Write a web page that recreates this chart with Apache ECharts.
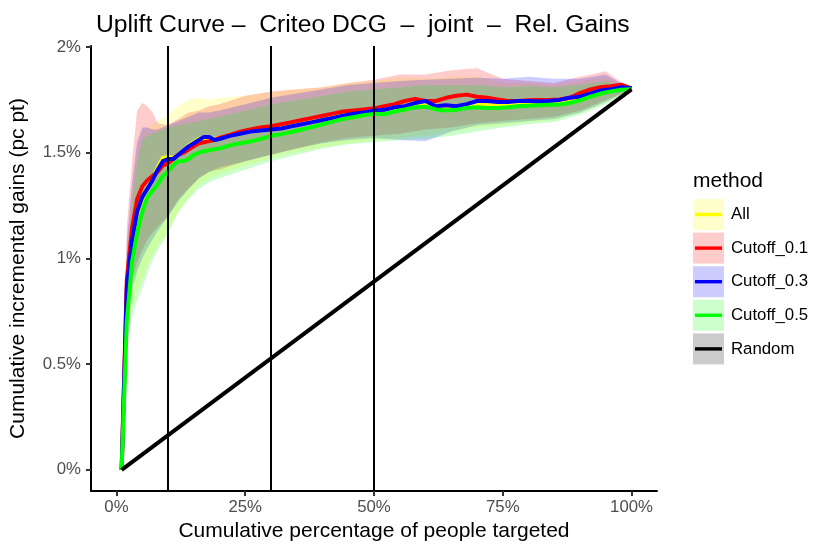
<!DOCTYPE html>
<html>
<head>
<meta charset="utf-8">
<script src="https://cdn.jsdelivr.net/npm/echarts@6/dist/echarts.min.js"></script>
<style>
html,body{margin:0;padding:0;background:#fff;}
#chart{width:830px;height:554px;}
</style>
</head>
<body>
<div id="chart"></div>
<script>
// ---------- data ----------
var METHODS = ['All', 'Cutoff_0.1', 'Cutoff_0.3', 'Cutoff_0.5', 'Random'];
var LINE_COLORS = ['#FFFF00', '#FF0000', '#0000FF', '#00FF00', '#000000'];
var RIBBON_COLORS = ['rgba(255,255,0,0.2)', 'rgba(255,0,0,0.2)', 'rgba(0,0,255,0.2)', 'rgba(0,255,0,0.2)', 'rgba(0,0,0,0.2)'];

var X_TICKS = [0, 25, 50, 75, 100];
var Y_TICKS = [0, 0.5, 1, 1.5, 2];
var VLINES = [10, 30, 50];

var LINE_X = [1,2,3,4,5,6,7,8,9,10,11,12,13,14,15,16,17,18,19,20,22,24,26,28,30,32,34,36,38,40,42,44,46,48,50,52,54,56,58,60,62,64,66,68,70,72,74,76,78,80,82,84,86,88,90,92,94,96,98,100];

var ALL = [0,0.84,1.07,1.21,1.28,1.33,1.38,1.43,1.475,1.48,1.475,1.49,1.51,1.535,1.55,1.565,1.57,1.57,1.565,1.57,1.585,1.595,1.605,1.61,1.615,1.62,1.63,1.64,1.65,1.66,1.67,1.68,1.69,1.695,1.70,1.705,1.71,1.715,1.725,1.735,1.715,1.715,1.71,1.72,1.73,1.725,1.73,1.73,1.74,1.74,1.74,1.742,1.745,1.755,1.76,1.775,1.79,1.80,1.805,1.80];
var CUT01 = [0,0.90,1.14,1.28,1.34,1.37,1.39,1.41,1.44,1.45,1.47,1.49,1.50,1.515,1.53,1.545,1.55,1.555,1.56,1.57,1.585,1.60,1.61,1.62,1.625,1.635,1.645,1.655,1.665,1.675,1.685,1.695,1.70,1.705,1.71,1.72,1.73,1.745,1.755,1.745,1.745,1.76,1.77,1.775,1.765,1.76,1.752,1.745,1.745,1.748,1.75,1.75,1.752,1.76,1.782,1.80,1.81,1.815,1.822,1.805];
var CUT03 = [0,0.86,1.08,1.22,1.29,1.33,1.37,1.42,1.46,1.47,1.47,1.49,1.51,1.53,1.545,1.56,1.575,1.575,1.56,1.565,1.58,1.59,1.60,1.605,1.61,1.615,1.625,1.635,1.645,1.655,1.665,1.675,1.685,1.69,1.70,1.703,1.715,1.72,1.735,1.745,1.72,1.725,1.72,1.73,1.745,1.745,1.74,1.74,1.745,1.745,1.742,1.745,1.75,1.76,1.765,1.78,1.795,1.80,1.81,1.805];
var CUT05 = [0,0.70,0.98,1.12,1.22,1.29,1.32,1.35,1.39,1.41,1.44,1.46,1.46,1.47,1.49,1.50,1.507,1.512,1.517,1.52,1.535,1.545,1.553,1.565,1.58,1.588,1.598,1.61,1.622,1.635,1.647,1.66,1.668,1.677,1.684,1.682,1.695,1.705,1.715,1.718,1.705,1.70,1.703,1.712,1.715,1.712,1.712,1.715,1.72,1.722,1.725,1.727,1.728,1.735,1.748,1.765,1.78,1.79,1.798,1.80];

var RANDOM_X = [1, 100];
var RANDOM_Y = [0, 1.80];

var RIBBON_X = [1,2,3,4,5,6,7,8,10,12,14,16,18,20,25,30,35,40,45,50,55,60,65,70,75,80,85,90,95,100];
var ALL_HI = [0,1.05,1.30,1.50,1.60,1.62,1.63,1.65,1.68,1.72,1.75,1.76,1.75,1.76,1.77,1.785,1.80,1.81,1.83,1.84,1.855,1.85,1.86,1.86,1.83,1.83,1.82,1.84,1.86,1.80];
var ALL_LO = [0,0.68,0.78,0.85,0.90,0.97,1.02,1.06,1.12,1.22,1.29,1.35,1.38,1.40,1.44,1.475,1.505,1.525,1.545,1.56,1.57,1.58,1.60,1.62,1.63,1.645,1.655,1.69,1.74,1.80];
var CUT01_HI = [0,1.15,1.45,1.70,1.735,1.72,1.69,1.64,1.63,1.66,1.69,1.70,1.72,1.73,1.77,1.79,1.80,1.81,1.83,1.845,1.87,1.87,1.89,1.90,1.85,1.84,1.83,1.86,1.885,1.80];
var CUT01_LO = [0,0.75,0.90,0.98,1.04,1.09,1.12,1.15,1.20,1.28,1.33,1.38,1.41,1.42,1.46,1.49,1.52,1.55,1.57,1.58,1.59,1.61,1.62,1.64,1.65,1.66,1.67,1.70,1.75,1.80];
var CUT03_HI = [0,1.08,1.35,1.55,1.62,1.62,1.61,1.61,1.63,1.65,1.67,1.69,1.69,1.70,1.73,1.76,1.78,1.80,1.82,1.83,1.84,1.845,1.85,1.855,1.85,1.86,1.85,1.85,1.87,1.80];
var CUT03_LO = [0,0.72,0.85,0.94,1.00,1.05,1.09,1.13,1.20,1.27,1.33,1.38,1.41,1.43,1.46,1.49,1.52,1.545,1.56,1.57,1.56,1.555,1.60,1.63,1.64,1.65,1.66,1.69,1.74,1.80];
var CUT05_HI = [0,0.98,1.25,1.45,1.56,1.58,1.59,1.60,1.62,1.63,1.64,1.65,1.66,1.67,1.70,1.73,1.75,1.77,1.79,1.80,1.81,1.82,1.82,1.82,1.81,1.815,1.81,1.82,1.84,1.80];
var CUT05_LO = [0,0.62,0.72,0.80,0.86,0.93,0.99,1.04,1.12,1.22,1.28,1.33,1.36,1.38,1.42,1.46,1.49,1.52,1.54,1.55,1.56,1.565,1.58,1.60,1.62,1.635,1.645,1.68,1.73,1.80];

// ---------- build ----------
var LINES = [ALL, CUT01, CUT03, CUT05];
var HIS = [ALL_HI, CUT01_HI, CUT03_HI, CUT05_HI];
var LOS = [ALL_LO, CUT01_LO, CUT03_LO, CUT05_LO];

var FONT = 'Liberation Sans, Arial, Helvetica, sans-serif';
var chart = echarts.init(document.getElementById('chart'), null, {renderer: 'canvas'});

var series = [];
HIS.forEach(function (hi, k) {
  var lo = LOS[k];
  series.push({
    type: 'custom',
    name: METHODS[k] + ' band',
    silent: true,
    z: 1,
    clip: true,
    data: RIBBON_X.map(function (x, i) { return [x, lo[i], hi[i]]; }),
    encode: {x: 0, y: [1, 2]},
    renderItem: function (params, api) {
      if (params.dataIndex !== 0) return null;
      var pts = [];
      for (var i = 0; i < RIBBON_X.length; i++) pts.push(api.coord([RIBBON_X[i], hi[i]]));
      for (var j = RIBBON_X.length - 1; j >= 0; j--) pts.push(api.coord([RIBBON_X[j], lo[j]]));
      return {type: 'polygon', shape: {points: pts}, style: {fill: RIBBON_COLORS[k], stroke: null}};
    }
  });
});
LINES.forEach(function (ys, k) {
  series.push({
    type: 'line',
    name: METHODS[k],
    z: 2 + k * 0.01,
    showSymbol: false,
    silent: true,
    data: LINE_X.map(function (x, i) { return [x, ys[i]]; }),
    lineStyle: {color: LINE_COLORS[k], width: 4, join: 'round'}
  });
});
series.push({
  type: 'line',
  name: 'Random',
  z: 3,
  showSymbol: false,
  silent: true,
  data: RANDOM_X.map(function (x, i) { return [x, RANDOM_Y[i]]; }),
  lineStyle: {color: '#000', width: 4},
  markLine: {
    silent: true,
    symbol: ['none', 'none'],
    label: {show: false},
    lineStyle: {color: '#000', width: 2, type: 'solid'},
    data: VLINES.map(function (v) { return {xAxis: v}; })
  }
});

// legend drawn with graphic elements
var graphics = [{
  type: 'text', left: 693, top: 171,
  style: {text: 'method', font: '21px ' + FONT, fill: '#000'}
}];
METHODS.forEach(function (m, i) {
  var top = 199 + i * 33.6;
  graphics.push({type: 'rect', shape: {x: 693, y: top, width: 31, height: 31}, style: {fill: RIBBON_COLORS[i]}});
  graphics.push({type: 'line', shape: {x1: 695, y1: top + 15.5, x2: 722, y2: top + 15.5}, style: {stroke: LINE_COLORS[i], lineWidth: 3.4}});
  graphics.push({type: 'text', x: 731, y: top + 15.5, style: {text: m, font: '16.8px ' + FONT, fill: '#000', textVerticalAlign: 'middle'}});
});

chart.setOption({
  animation: false,
  backgroundColor: '#fff',
  title: {
    text: 'Uplift Curve –  Criteo DCG  –  joint  –  Rel. Gains',
    left: 91, top: 8,
    textStyle: {fontFamily: FONT, fontSize: 24.7, fontWeight: 'normal', color: '#000'}
  },
  grid: {left: 91, right: 173, top: 46, bottom: 63},
  xAxis: {
    type: 'value', min: -4.95, max: 104.95,
    name: 'Cumulative percentage of people targeted',
    nameLocation: 'middle', nameGap: 28,
    nameTextStyle: {fontFamily: FONT, fontSize: 21, color: '#000'},
    axisLine: {show: true, onZero: false, lineStyle: {color: '#000', width: 2}},
    axisTick: {show: true, customValues: X_TICKS, length: 5, lineStyle: {color: '#333', width: 2}},
    axisLabel: {customValues: X_TICKS, margin: 8, fontFamily: FONT, fontSize: 16.8, color: '#4D4D4D',
      formatter: function (v) { return v + '%'; }},
    splitLine: {show: false}
  },
  yAxis: {
    type: 'value', min: -0.1, max: 2.005,
    name: 'Cumulative incremental gains (pc pt)',
    nameLocation: 'middle', nameGap: 62,
    nameTextStyle: {fontFamily: FONT, fontSize: 21, color: '#000'},
    axisLine: {show: true, onZero: false, lineStyle: {color: '#000', width: 2}},
    axisTick: {show: true, customValues: Y_TICKS, length: 5, lineStyle: {color: '#333', width: 2}},
    axisLabel: {customValues: Y_TICKS, margin: 10, fontFamily: FONT, fontSize: 16.8, color: '#4D4D4D',
      formatter: function (v) { return v + '%'; }},
    splitLine: {show: false}
  },
  graphic: graphics,
  series: series
});
</script>
</body>
</html>
